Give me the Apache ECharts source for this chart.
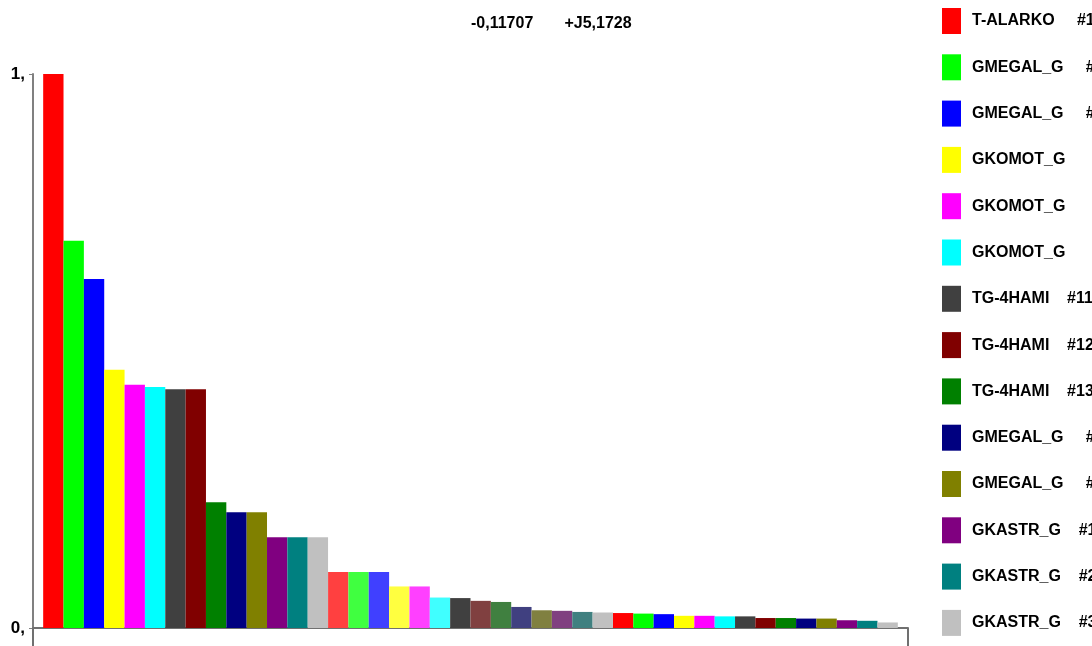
<!DOCTYPE html>
<html>
<head>
<meta charset="utf-8">
<title>bars</title>
<script src="https://cdn.jsdelivr.net/npm/echarts@6/dist/echarts.min.js"></script>
<style>
  html, body { margin: 0; padding: 0; background: #fff; }
  #chart { width: 1092px; height: 646px; }
</style>
</head>
<body>
<div id="chart"></div>
<script>
// legend names, one per colour
const names = [
  'T-ALARKO     #1', 'GMEGAL_G     #1', 'GMEGAL_G     #2', 'GKOMOT_G       #1',
  'GKOMOT_G       #2', 'GKOMOT_G       #3', 'TG-4HAMI    #11', 'TG-4HAMI    #12',
  'TG-4HAMI    #13', 'GMEGAL_G     #3', 'GMEGAL_G     #4', 'GKASTR_G    #1',
  'GKASTR_G    #2', 'GKASTR_G    #3'
]
// bar values, left to right (42 bars)
const values = [
  1.0, 0.699, 0.630, 0.466, 0.439, 0.435, 0.431, 0.431, 0.227, 0.209, 0.209, 0.164, 0.164, 0.164,
  0.101, 0.101, 0.101, 0.075, 0.075, 0.055, 0.054, 0.049, 0.047, 0.038, 0.032, 0.031, 0.029, 0.028,
  0.027, 0.026, 0.025, 0.022, 0.022, 0.021, 0.021, 0.018, 0.018, 0.017, 0.017, 0.014, 0.013, 0.010
]
const yTicks = [0, 1]
const title = '-0,11707       +J5,1728'

// colours: base palette, and the lighter one used for the second round of bars
const colors = ['#ff0000', '#00ff00', '#0000ff', '#ffff00', '#ff00ff', '#00ffff', '#404040',
  '#800000', '#008000', '#000080', '#808000', '#800080', '#008080', '#c0c0c0']
const colorsLight = ['#ff4040', '#40ff40', '#4040ff', '#ffff40', '#ff40ff', '#40ffff', '#404040',
  '#804040', '#408040', '#404080', '#808040', '#804080', '#408080', '#c0c0c0']

// no narrow font here, so a smaller bold sans keeps the widths close
const font = "'Liberation Sans', Arial, sans-serif"
const n = names.length

// one series per colour, each gets every n-th bar
let series = names.map((name, i) => {
  let data = []
  values.forEach((v, k) => {
    if (k % n !== i) return
    let round = Math.floor(k / n)
    data.push({
      value: [k + 1, v],
      itemStyle: { color: round === 1 ? colorsLight[i] : colors[i] }
    })
  })
  return {
    name: name,
    type: 'bar',
    stack: 'all',
    barCategoryGap: '0%',
    itemStyle: { color: colors[i] },
    data: data
  }
})

let chart = echarts.init(document.getElementById('chart'))
chart.setOption({
  animation: false,
  title: {
    text: title,
    left: 466,
    top: 11,
    textStyle: { fontFamily: font, fontSize: 16, fontWeight: 'bold', color: '#000' }
  },
  legend: {
    orient: 'vertical',
    left: 937,
    top: 3,
    height: 2000,
    itemWidth: 19,
    itemHeight: 26,
    itemGap: 20.3,
    icon: 'rect',
    data: names,
    textStyle: { fontFamily: font, fontSize: 16, fontWeight: 'bold', color: '#000', padding: [0, 0, 0, 6] }
  },
  grid: { left: 33, right: 184, top: 74, bottom: 18 },
  xAxis: {
    type: 'value',
    min: 0,
    max: values.length + 1,
    interval: values.length + 1,
    axisLine: { lineStyle: { color: '#707070', width: 2 } },
    axisTick: { show: true, length: 18, lineStyle: { color: '#707070', width: 2 } },
    axisLabel: { show: false },
    splitLine: { show: false }
  },
  yAxis: {
    type: 'value',
    min: yTicks[0],
    max: yTicks[yTicks.length - 1],
    interval: 1,
    axisLine: { show: true, lineStyle: { color: '#808080', width: 2 } },
    axisTick: { show: true, length: 4, lineStyle: { color: '#808080', width: 1 } },
    axisLabel: {
      margin: 8,
      fontFamily: font, fontSize: 17, fontWeight: 'bold', color: '#000',
      formatter: v => v + ','
    },
    splitLine: { show: false }
  },
  series: series
})
</script>
</body>
</html>
